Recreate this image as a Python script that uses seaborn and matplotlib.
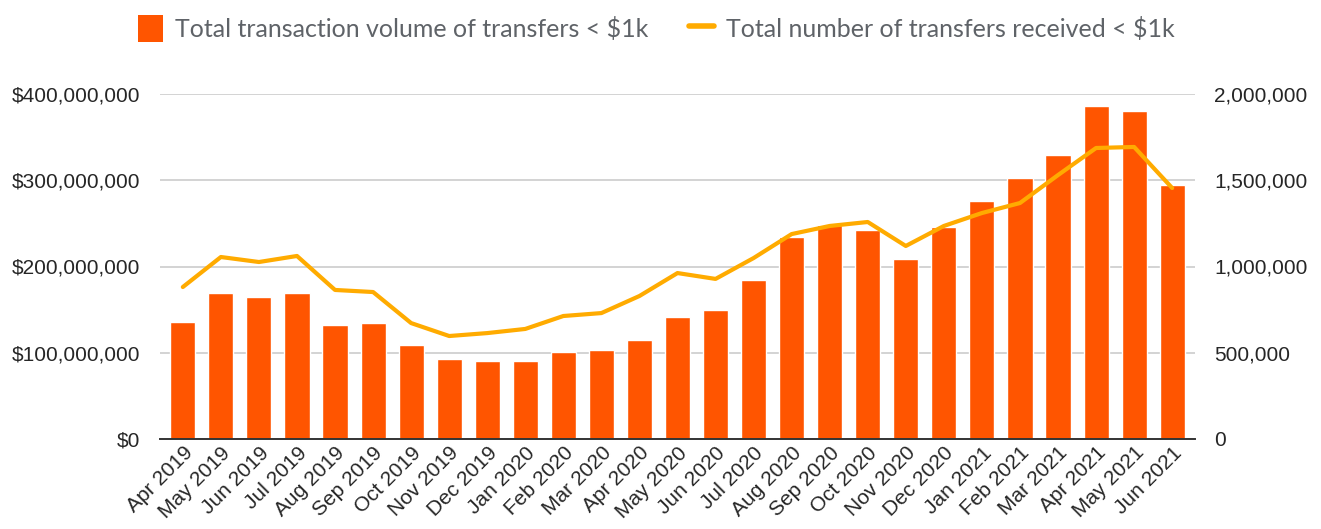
import numpy as np
import pandas as pd
import matplotlib
matplotlib.use("Agg")
import matplotlib.pyplot as plt
import seaborn as sns
from matplotlib.patches import Patch
from matplotlib.lines import Line2D
from matplotlib.ticker import FuncFormatter

# ---------------------------------------------------------------------------
# Data
# ---------------------------------------------------------------------------
months = ["Apr 2019", "May 2019", "Jun 2019", "Jul 2019", "Aug 2019", "Sep 2019",
          "Oct 2019", "Nov 2019", "Dec 2019", "Jan 2020", "Feb 2020", "Mar 2020",
          "Apr 2020", "May 2020", "Jun 2020", "Jul 2020", "Aug 2020", "Sep 2020",
          "Oct 2020", "Nov 2020", "Dec 2020", "Jan 2021", "Feb 2021", "Mar 2021",
          "Apr 2021", "May 2021", "Jun 2021"]
volume_musd = [136, 169, 165, 169, 132, 134, 109, 93, 90, 90, 101, 103,
               115, 142, 149, 184, 234, 248, 242, 209, 246, 276, 303, 329,
               386, 380, 294]
transfers_k = [881, 1055, 1026, 1061, 864, 852, 672, 597, 614, 638, 713, 730,
               829, 962, 928, 1049, 1188, 1235, 1258, 1119, 1235, 1310, 1368, 1530,
               1687, 1693, 1455]

BAR_LABEL = "Total transaction volume of transfers < $1k"
LINE_LABEL = "Total number of transfers received < $1k"
BAR_COLOR = "#FF5500"
LINE_COLOR = "#FFAB00"

df = pd.DataFrame({
    "month": months,
    "volume": np.array(volume_musd) * 1e6,
    "transfers": np.array(transfers_k) * 1e3,
})

sns.set_style("white")
plt.rcParams["font.family"] = ["Liberation Sans", "DejaVu Sans"]

fig = plt.figure(figsize=(13.21, 5.29), dpi=100)
ax = fig.add_axes([160 / 1321, 1 - 439 / 529, (1195 - 160) / 1321, (439 - 94) / 529])

sns.barplot(df, x="month", y="volume", color=BAR_COLOR, saturation=1,
            width=0.66, ax=ax, zorder=2)
ax.set_ylim(0, 400e6)
ax.set_yticks(np.arange(0, 400e6 + 1, 100e6))
ax.yaxis.set_major_formatter(FuncFormatter(lambda v, p: f"${v:,.0f}"))
ax.grid(True, axis="y", color="#cccccc", linewidth=1.2, zorder=0)
ax.set_axisbelow(True)
for s in ["top", "right", "left"]:
    ax.spines[s].set_visible(False)
ax.spines["bottom"].set_color("#333333")
ax.spines["bottom"].set_linewidth(1.4)
ax.set(xlabel="", ylabel="")
ax.tick_params(axis="y", length=0, labelsize=15, pad=14)
ax.tick_params(axis="x", length=0, labelsize=15, pad=3)
plt.setp(ax.get_xticklabels(), rotation=45, ha="right", rotation_mode="anchor")

ax2 = ax.twinx()
sns.lineplot(x=np.arange(len(months)), y=df["transfers"], color=LINE_COLOR,
             linewidth=3, sort=False, ax=ax2, zorder=3)
ax2.set_ylim(0, 2e6)
ax2.set_yticks(np.arange(0, 2e6 + 1, 5e5))
ax2.yaxis.set_major_formatter(FuncFormatter(lambda v, p: f"{v:,.0f}"))
for s in ["top", "right", "left", "bottom"]:
    ax2.spines[s].set_visible(False)
ax2.set_ylabel("")
ax2.tick_params(axis="y", length=0, labelsize=15, pad=14)
ax2.grid(False)
ax.set_xlim(-0.6, len(months) - 0.4)

handles = [
    Patch(facecolor=BAR_COLOR, edgecolor="none", label=BAR_LABEL),
    Line2D([0], [0], color=LINE_COLOR, linewidth=4, label=LINE_LABEL),
]
leg = fig.legend(handles=handles, loc="upper center", bbox_to_anchor=(0.497, 1.015),
                 ncol=2, frameon=False, labelcolor="#5f6368",
                 handlelength=1.0, handleheight=1.3, handletextpad=0.5,
                 columnspacing=1.6, prop={"family": ["Lato", "DejaVu Sans"], "size": 18})

fig.savefig("out.png", dpi=100)
